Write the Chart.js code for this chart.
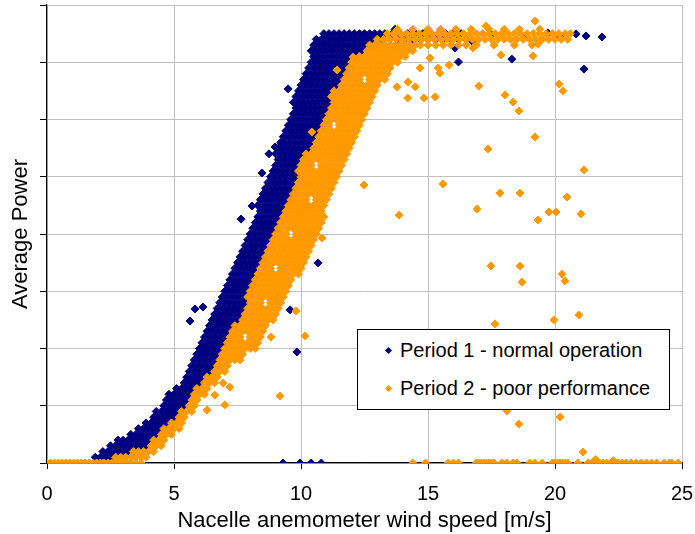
<!DOCTYPE html>
<html>
<head>
<meta charset="utf-8">
<script src="https://cdn.jsdelivr.net/npm/chart.js@4.4.0/dist/chart.umd.min.js"></script>
<style>
  body { margin: 0; background: #fff; }
  #wrap { position: relative; width: 695px; height: 534px; }
  #legend { position: absolute; left: 357px; top: 329px; width: 311px; height: 79px;
            border: 1px solid #000; background: #fff;
            font: 20px "Liberation Sans", Arial, sans-serif; color: #000; }
  .item { position: absolute; left: 42px; height: 24px; line-height: 24px; white-space: nowrap; }
  .mark { position: absolute; left: 28px; width: 5px; height: 5px; transform: rotate(45deg); }
</style>
</head>
<body>
<div id="wrap">
  <canvas id="powerchart"></canvas>
  <div id="legend">
    <span class="mark" style="top:18px;background:#000080"></span>
    <span class="item" style="top:8px">Period 1 - normal operation</span>
    <span class="mark" style="top:56px;background:#ff9900"></span>
    <span class="item" style="top:46px">Period 2 - poor performance</span>
  </div>
</div>
<script>
//---data: wind speed [m/s], power [kW]---//

var windTicks = [0, 5, 10, 15, 20, 25];

// period 1: rows of the dense band, [power, [wind speeds]]
var period1Band = [
  [20,[1.9,2.1,2.3,2.5,2.7]],
  [40,[2.2,2.4,2.6,2.8,3.0,3.2,3.4]],
  [60,[2.5,2.7,2.9,3.1,3.3,3.5,3.7,3.9]],
  [80,[2.8,3.0,3.2,3.4,3.6,3.8,4.0,4.2]],
  [100,[3.3,3.5,3.7,3.9,4.1,4.3,4.5]],
  [120,[3.6,3.8,4.0,4.2,4.4,4.6]],
  [140,[3.9,4.1,4.3,4.5,4.7,4.9]],
  [160,[4.2,4.4,4.6,4.8,5.0]],
  [180,[4.3,4.5,4.7,4.9,5.1,5.3]],
  [200,[4.6,4.8,5.0,5.2,5.4]],
  [220,[4.7,4.9,5.1,5.3,5.5]],
  [240,[4.8,5.0,5.2,5.4,5.6]],
  [260,[5.1,5.3,5.5,5.7,5.9]],
  [280,[5.4,5.6,5.8,6.0]],
  [300,[5.5,5.7,5.9,6.1,6.3]],
  [320,[5.6,5.8,6.0,6.2,6.4]],
  [340,[5.7,5.9,6.1,6.3,6.5]],
  [360,[5.8,6.0,6.2,6.4,6.6]],
  [380,[5.9,6.1,6.3,6.5,6.7]],
  [400,[6.0,6.2,6.4,6.6,6.8,7.0]],
  [420,[6.1,6.3,6.5,6.7,6.9,7.1]],
  [440,[6.2,6.4,6.6,6.8,7.0,7.2]],
  [460,[6.3,6.5,6.7,6.9,7.1,7.3]],
  [480,[6.4,6.6,6.8,7.0,7.2,7.4]],
  [500,[6.5,6.7,6.9,7.1,7.3,7.5]],
  [520,[6.6,6.8,7.0,7.2,7.4,7.6]],
  [540,[6.7,6.9,7.1,7.3,7.5,7.7]],
  [560,[6.8,7.0,7.2,7.4,7.6,7.8]],
  [580,[6.9,7.1,7.3,7.5,7.7,7.9]],
  [600,[7.0,7.2,7.4,7.6,7.8,8.0]],
  [620,[7.1,7.3,7.5,7.7,7.9,8.1]],
  [640,[7.2,7.4,7.6,7.8,8.0,8.2]],
  [660,[7.3,7.5,7.7,7.9,8.1,8.3]],
  [680,[7.4,7.6,7.8,8.0,8.2,8.4]],
  [700,[7.5,7.7,7.9,8.1,8.3,8.5]],
  [720,[7.6,7.8,8.0,8.2,8.4,8.6]],
  [740,[7.7,7.9,8.1,8.3,8.5,8.7]],
  [760,[7.8,8.0,8.2,8.4,8.6,8.8]],
  [780,[7.9,8.1,8.3,8.5,8.7,8.9]],
  [800,[8.0,8.2,8.4,8.6,8.8,9.0]],
  [820,[8.1,8.3,8.5,8.7,8.9,9.1]],
  [840,[8.2,8.4,8.6,8.8,9.0,9.2]],
  [860,[8.3,8.5,8.7,8.9,9.1,9.3]],
  [880,[8.4,8.6,8.8,9.0,9.2]],
  [900,[8.3,8.5,8.7,8.9,9.1,9.3,9.5]],
  [920,[8.4,8.6,8.8,9.0,9.2,9.4,9.6]],
  [940,[8.5,8.7,8.9,9.1,9.3,9.5,9.7]],
  [960,[8.6,8.8,9.0,9.2,9.4,9.6,9.8]],
  [980,[8.7,8.9,9.1,9.3,9.5,9.7,9.9]],
  [1000,[8.8,9.0,9.2,9.4,9.6,9.8]],
  [1020,[8.9,9.1,9.3,9.5,9.7,9.9]],
  [1040,[9.0,9.2,9.4,9.6,9.8,10.0]],
  [1060,[9.1,9.3,9.5,9.7,9.9,10.1]],
  [1080,[9.0,9.2,9.4,9.6,9.8,10.0,10.2]],
  [1100,[9.1,9.3,9.5,9.7,9.9,10.1,10.3]],
  [1120,[9.2,9.4,9.6,9.8,10.0,10.2,10.4]],
  [1140,[9.3,9.5,9.7,9.9,10.1,10.3,10.5]],
  [1160,[9.4,9.6,9.8,10.0,10.2,10.4,10.6]],
  [1180,[9.5,9.7,9.9,10.1,10.3,10.5,10.7,10.9]],
  [1200,[9.6,9.8,10.0,10.2,10.4,10.6,10.8]],
  [1220,[9.7,9.9,10.1,10.3,10.5,10.7,10.9,11.1]],
  [1240,[9.8,10.0,10.2,10.4,10.6,10.8,11.0]],
  [1260,[9.7,9.9,10.1,10.3,10.5,10.7,10.9,11.1]],
  [1280,[9.8,10.0,10.2,10.4,10.6,10.8,11.0,11.2]],
  [1300,[9.9,10.1,10.3,10.5,10.7,10.9,11.1,11.3]],
  [1320,[10.0,10.2,10.4,10.6,10.8,11.0,11.2,11.4]],
  [1340,[10.1,10.3,10.5,10.7,10.9,11.1,11.3,11.5]],
  [1360,[10.2,10.4,10.6,10.8,11.0,11.2,11.4,11.6,11.8]],
  [1380,[10.3,10.5,10.7,10.9,11.1,11.3,11.5,11.7,11.9]],
  [1400,[10.4,10.6,10.8,11.0,11.2,11.4,11.6,11.8,12.0]],
  [1420,[10.5,10.7,10.9,11.1,11.3,11.5,11.7,11.9,12.1,12.3]],
  [1440,[10.4,10.6,10.8,11.0,11.2,11.4,11.6,11.8,12.0,12.2,12.4]],
  [1460,[10.5,10.7,10.9,11.1,11.3,11.5,11.7,11.9,12.1,12.3,12.5,12.7,12.9]],
  [1480,[10.6,10.8,11.0,11.2,11.4,11.6,11.8,12.0,12.2,12.4,12.6,12.8,13.0,13.2,13.5,13.8,14.1,14.4,14.7,15.0,15.3,15.6,15.9,16.2,16.5]],
  [1500,[10.9,11.1,11.3,11.5,11.7,11.9,12.1,12.3,12.5,12.7,12.9,13.1,13.3,13.6,13.9,14.2,14.5,14.8,15.1,15.4,15.7,16.0,16.3]]
];
var period1Zero = [1.9,2.1,2.3,2.5,2.7,2.9,3.1,9.29,9.96,10.4,10.8];
var period1Scatter = [
  [9.49,1307],[8.98,1104],[8.74,1080],[8.46,1013],[8.07,898],[7.64,852],
  [5.63,496],[5.83,538],[6.14,545],[9.57,535],[9.84,388],[10.67,699],
  [16.06,1450],[16.2,1401],[18.3,1411],[21.14,1376],[19.72,1502],[20.83,1499],
  [21.22,1492],[21.85,1488],[20.2,1488],[13.7,1515],[14.96,1509],[16.77,1471],
  [17.5,1495],[18.8,1490]
];

// period 2
var period2Band = [
  [20,[2.7,2.9,3.1,3.3,3.5,3.7,3.9]],
  [40,[3.4,3.6,3.8,4.0,4.2]],
  [60,[4.1,4.3,4.5]],
  [80,[4.2,4.4,4.6]],
  [100,[4.5,4.7,4.9]],
  [120,[4.6,4.8,5.0,5.2]],
  [140,[4.9,5.1,5.3]],
  [160,[5.2,5.4]],
  [180,[5.3,5.5,5.7]],
  [200,[5.6,5.8]],
  [220,[5.7,5.9]],
  [240,[5.8,6.0,6.2]],
  [260,[5.9,6.1,6.3]],
  [280,[6.2,6.4,6.6]],
  [300,[6.3,6.5,6.7]],
  [320,[6.6,6.8,7.0]],
  [340,[6.7,6.9,7.1]],
  [360,[6.8,7.0,7.2,7.4]],
  [380,[6.9,7.1,7.3,7.5,7.7]],
  [400,[7.0,7.2,7.4,7.6,7.8,8.0,8.2]],
  [420,[7.1,7.3,7.5,7.7,7.9,8.1,8.3]],
  [440,[7.2,7.4,7.6,8.0,8.2,8.4]],
  [460,[7.3,7.5,7.7,7.9,8.1,8.3,8.5]],
  [480,[7.4,7.6,7.8,8.0,8.2,8.4,8.6]],
  [500,[7.7,7.9,8.1,8.3,8.5,8.7,8.9]],
  [520,[7.8,8.0,8.2,8.4,8.6,8.8,9.0]],
  [540,[7.9,8.1,8.3,8.5,8.7,8.9,9.1]],
  [560,[8.0,8.2,8.4,8.8,9.0,9.2]],
  [580,[7.9,8.1,8.3,8.5,8.7,8.9,9.1,9.3]],
  [600,[8.0,8.2,8.4,8.6,8.8,9.0,9.2,9.4]],
  [620,[8.1,8.3,8.5,8.7,8.9,9.1,9.3,9.5]],
  [640,[8.2,8.4,8.6,8.8,9.0,9.2,9.4,9.6]],
  [660,[8.3,8.5,8.7,8.9,9.1,9.3,9.5,9.7,9.9]],
  [680,[8.4,8.6,8.8,9.2,9.4,9.6,9.8,10.0]],
  [700,[8.5,8.7,8.9,9.1,9.3,9.5,9.7,9.9,10.1]],
  [720,[8.6,8.8,9.0,9.2,9.4,9.6,9.8,10.0,10.2]],
  [740,[8.7,8.9,9.1,9.3,9.5,9.7,9.9,10.1,10.3]],
  [760,[8.8,9.0,9.2,9.4,9.6,9.8,10.0,10.2,10.4]],
  [780,[8.9,9.1,9.3,9.5,9.7,9.9,10.1,10.3,10.5]],
  [800,[9.0,9.2,9.4,9.8,10.0,10.2,10.4,10.6]],
  [820,[9.1,9.3,9.5,9.7,9.9,10.1,10.3,10.5,10.7]],
  [840,[9.2,9.4,9.6,9.8,10.0,10.2,10.4,10.6,10.8]],
  [860,[9.3,9.5,9.7,9.9,10.1,10.3,10.5,10.7,10.9]],
  [880,[9.4,9.6,9.8,10.0,10.2,10.4,10.6,10.8]],
  [900,[9.5,9.7,9.9,10.1,10.3,10.5,10.7,10.9]],
  [920,[9.6,9.8,10.0,10.2,10.6,10.8,11.0]],
  [940,[9.7,9.9,10.1,10.3,10.5,10.7,10.9,11.1]],
  [960,[9.8,10.0,10.2,10.4,10.6,10.8,11.0,11.2]],
  [980,[9.9,10.1,10.3,10.5,10.7,10.9,11.1,11.3]],
  [1000,[10.0,10.2,10.4,10.6,10.8,11.0,11.2,11.4]],
  [1020,[9.9,10.1,10.3,10.5,10.7,10.9,11.1,11.3,11.5]],
  [1040,[10.0,10.2,10.4,10.8,11.0,11.2,11.4,11.6]],
  [1060,[10.1,10.3,10.5,10.7,10.9,11.1,11.3,11.5,11.7]],
  [1080,[10.2,10.4,10.6,10.8,11.0,11.2,11.4,11.6,11.8]],
  [1100,[10.5,10.7,10.9,11.1,11.3,11.5,11.7,11.9]],
  [1120,[10.6,10.8,11.0,11.2,11.4,11.6,11.8,12.0]],
  [1140,[10.7,10.9,11.1,11.3,11.5,11.7,11.9,12.1]],
  [1160,[10.8,11.0,11.2,11.4,11.6,11.8,12.0,12.2]],
  [1180,[10.9,11.1,11.5,11.7,11.9,12.1,12.3]],
  [1200,[11.0,11.2,11.4,11.6,11.8,12.0,12.2,12.4]],
  [1220,[11.1,11.3,11.5,11.7,11.9,12.1,12.3,12.5]],
  [1240,[11.2,11.4,11.6,11.8,12.0,12.2,12.4,12.6]],
  [1260,[11.3,11.5,11.7,11.9,12.1,12.3,12.5,12.7]],
  [1280,[11.2,11.4,11.6,11.8,12.0,12.2,12.4,12.6,12.8]],
  [1300,[11.3,11.5,11.7,11.9,12.1,12.3,12.5,12.7,12.9]],
  [1320,[11.6,11.8,12.0,12.2,12.4,12.6,12.8,13.0]],
  [1340,[11.7,11.9,12.1,12.3,12.7,12.9,13.1,13.3]],
  [1360,[11.8,12.0,12.2,12.4,12.6,12.8,13.0,13.2,13.4]],
  [1380,[11.9,12.1,12.3,12.5,12.7,12.9,13.1,13.3,13.5]],
  [1400,[12.0,12.2,12.4,12.6,12.8,13.0,13.2,13.4,13.6,13.8]],
  [1420,[12.3,12.5,12.7,12.9,13.1,13.3,13.5,13.7,13.9,14.1]],
  [1440,[12.6,12.8,13.0,13.2,13.4,13.6,13.8,14.0,14.2,14.4]],
  [1460,[12.7,12.9,13.1,13.3,13.5,13.7,13.9,14.1,14.3,14.5,14.7,15.0,15.3,15.6,15.9,16.2,16.5,16.9,17.6,18.4,19.1]],
  [1480,[13.0,13.25,13.5,13.75,14.0,14.25,14.5,14.75,15.0,15.25,15.5,15.75,16.0,16.25,16.5,16.75,17.0,17.25,17.5,17.75,18.0,18.25,18.5,18.75,19.0,19.25,19.5,19.75,20.0,20.25,20.5]],
  [1500,[13.4,13.65,13.9,14.15,14.4,14.65,14.9,15.15,15.4,15.65,15.9,16.15,16.4,16.65,16.9,17.15,17.4,17.65,17.9,18.15,18.4,18.65,18.9,19.15,19.4,19.65,19.9,20.15,20.4,20.6]],
  [1515,[13.8,14.4,15.0,15.5,16.1,16.7,17.4,18.0,18.6,19.4]]
];
var period2Zero = [
  0,0.15,0.3,0.45,0.6,0.75,0.9,1.05,1.2,1.35,1.5,1.65,1.8,1.95,2.1,2.25,2.4,2.55,2.7,2.85,3.0,3.15,3.3,3.5,3.7,
  14.4,14.9,15.8,16.0,16.2,16.9,17.0,17.1,17.2,17.3,17.4,17.5,17.6,17.9,18.1,18.35,18.5,19.0,19.2,19.5,
  19.9,20.0,20.1,20.2,20.3,20.4,20.5,20.9,21.3,21.45,21.6,21.75,21.9,22.05,22.2,22.35,22.5,22.65,22.8,
  23.0,23.2,23.4,23.6,23.8,24.0,24.3,24.5,24.6,24.85
];
var period2Scatter = [
  [19.21,1544],[17.28,1527],[16.77,1450],[17.87,1425],[19.13,1422],[19.33,1464],[20.16,1324],[20.31,1300],
  [17.0,1317],[18.03,1286],[18.35,1261],[18.58,1230],[19.21,1139],[17.36,1097],[21.14,1024],[15.59,975],
  [12.48,971],[17.83,943],[18.62,943],[20.47,929],[16.93,887],[13.86,866],[19.76,877],[20.04,877],
  [21.02,870],[19.33,849],[17.48,688],[18.62,688],[20.28,660],[20.39,636],[18.7,632],[20.94,517],
  [19.96,500],[17.64,486],[18.11,182],[18.58,136],[20.2,161],[9.8,531],[10.16,444],[9.17,234],
  [8.82,440],[10.83,786],[10.43,1156],[11.42,1373],[12.05,1418],[15.08,1415],[15.4,1380],[15.47,1362],
  [15.83,1390],[14.69,1380],[14.5,1314],[14.2,1275],[14.84,1275],[15.28,1279],[13.78,1314],[14.21,1331],
  [21.1,38],[21.6,12],[22.3,8],
  [6.3,185],[6.93,279],[7.2,265],[6.61,237],[7.99,412],[7.6,360],[7.0,203]
];

function toPoints(band, zero, scatter) {
  var pts = [];
  band.forEach(row => row[1].forEach(x => pts.push({x: x, y: row[0]})));
  zero.forEach(x => pts.push({x: x, y: 0}));
  scatter.forEach(p => pts.push({x: p[0], y: p[1]}));
  return pts;
}

var data = {
  datasets: [{
    label: 'Period 1 - normal operation',
    data: toPoints(period1Band, period1Zero, period1Scatter),
    backgroundColor: '#000080',
    borderColor: '#000080',
    order: 1
  }, {
    label: 'Period 2 - poor performance',
    data: toPoints(period2Band, period2Zero, period2Scatter),
    backgroundColor: '#ff9900',
    borderColor: '#ff9900',
    order: 0
  }]
};

var fontFamily = "'Liberation Sans', Arial, sans-serif";

var config = {
  type: 'scatter',
  data: data,
  options: {
    responsive: true,
    maintainAspectRatio: false,
    animation: false,
    layout: { padding: {top: 5, right: 13, left: 0, bottom: 0} },
    elements: { point: { pointStyle: 'rectRot', radius: 4, borderWidth: 1, hoverRadius: 4 } },
    scales: {
      x: {
        type: 'linear',
        min: 0, max: 25,
        afterBuildTicks: s => { s.ticks = windTicks.map(v => ({value: v})); },
        afterFit: s => { s.height = 71; s.paddingLeft = 0; s.paddingRight = 0; },
        grid: { color: '#c0c0c0', tickColor: '#000', tickLength: 6 },
        border: { color: '#000', width: 1.2 },
        ticks: { color: '#000', font: {family: fontFamily, size: 20}, padding: 13, maxRotation: 0 },
        title: { display: true, text: 'Nacelle anemometer wind speed [m/s]', color: '#000',
                 font: {family: fontFamily, size: 22}, padding: {top: 0, bottom: 0} }
      },
      y: {
        min: 0, max: 1600,
        ticks: { stepSize: 200, display: false },
        afterFit: s => { s.width = 47; s.paddingTop = 0; s.paddingBottom = 0; },
        grid: { color: '#c0c0c0', tickColor: '#000', tickLength: 7 },
        border: { color: '#000', width: 1.2 },
        title: { display: true, text: 'Average Power', color: '#000',
                 font: {family: fontFamily, size: 22}, padding: {top: 8, bottom: 0} }
      }
    },
    plugins: {
      legend: { display: false },
      tooltip: { enabled: false }
    }
  }
};

var powerctx = document.getElementById('powerchart').getContext('2d');
var powerchart = new Chart(powerctx, config);
</script>
</body>
</html>
